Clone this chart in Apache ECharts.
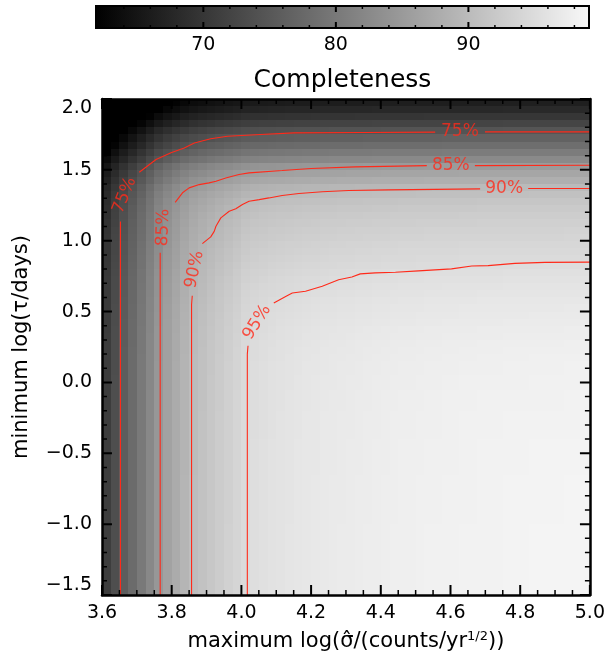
<!DOCTYPE html>
<html>
<head>
<meta charset="utf-8">
<script src="https://cdn.jsdelivr.net/npm/echarts@6/dist/echarts.min.js"></script>
<style>
  html, body { margin: 0; padding: 0; background: #ffffff; }
  #chart { width: 608px; height: 658px; }
</style>
</head>
<body>
<div id="chart"></div>
<script>
// Grid of the completeness map: cell centres along each axis
const cellW = 0.025;   // width of one cell in log(sigma)
const cellH = 0.05;    // height of one cell in log(tau)
const sigmaCentres = Array.from({ length: 56 }, (_, k) => +(3.6125 + k * cellW).toFixed(4));
const tauCentres = Array.from({ length: 70 }, (_, j) => +(-1.475 + j * cellH).toFixed(4));

// Completeness (%) along the bottom row, one value per column (left to right)
const bottomRow = [
  71.0, 73.6, 75.9, 78.0, 80.1, 82.3, 84.6, 86.2, 87.6, 89.0,
  90.2, 91.0, 91.8, 92.5, 93.2, 93.9, 94.8, 95.2, 95.5, 95.8,
  96.0, 96.2, 96.4, 96.6, 96.7, 96.9, 97.0, 97.1, 97.2, 97.3,
  97.4, 97.5, 97.6, 97.7, 97.8, 97.8, 97.9, 98.0, 98.0, 98.1,
  98.1, 98.2, 98.2, 98.3, 98.3, 98.3, 98.4, 98.4, 98.4, 98.5,
  98.5, 98.5, 98.5, 98.6, 98.6, 98.6
];

// Completeness (%) along the right-hand column, one value per row (bottom to top)
const rightColumn = [
  98.6, 98.6, 98.6, 98.6, 98.6, 98.6, 98.6, 98.6, 98.6, 98.6,
  98.5, 98.5, 98.5, 98.5, 98.5, 98.5, 98.5, 98.4, 98.4, 98.4,
  98.4, 98.4, 98.3, 98.3, 98.3, 98.3, 98.2, 98.2, 98.2, 98.1,
  98.1, 98.0, 98.0, 97.9, 97.8, 97.7, 97.5, 97.4, 97.2, 97.0,
  96.8, 96.6, 96.3, 96.1, 95.8, 95.5, 95.1, 94.8, 94.5, 94.2,
  93.8, 93.5, 93.1, 92.7, 92.2, 91.6, 90.8, 89.8, 88.2, 86.8,
  85.2, 82.6, 80.5, 78.4, 76.6, 74.6, 72.2, 70.0, 68.0, 66.5
];
const peakCompleteness = 98.7;

// Axis ranges and tick positions
const xMin = 3.6, xMax = 5.0, yMin = -1.5, yMax = 2.0;
const xMajorTicks = [3.6, 3.8, 4.0, 4.2, 4.4, 4.6, 4.8, 5.0];
const xMinorTicks = [3.65, 3.7, 3.75, 3.85, 3.9, 3.95, 4.05, 4.1, 4.15, 4.25, 4.3, 4.35,
                     4.45, 4.5, 4.55, 4.65, 4.7, 4.75, 4.85, 4.9, 4.95];
const yMajorTicks = [-1.5, -1.0, -0.5, 0.0, 0.5, 1.0, 1.5, 2.0];
const yMinorTicks = [-1.4, -1.3, -1.2, -1.1, -0.9, -0.8, -0.7, -0.6, -0.4, -0.3, -0.2, -0.1,
                     0.1, 0.2, 0.3, 0.4, 0.6, 0.7, 0.8, 0.9, 1.1, 1.2, 1.3, 1.4, 1.6, 1.7, 1.8, 1.9];

// Colour bar range and ticks
const cbMin = 61.9, cbMax = 99.1;
const cbMajor = [70, 80, 90];
const cbMinor = [62, 64, 66, 68, 72, 74, 76, 78, 82, 84, 86, 88, 92, 94, 96, 98];

// Contour lines (log sigma, log tau); each level is split where its label sits
const c75Low  = [[3.653, -1.5], [3.653, 1.135]];
const c75Mid  = [[3.707, 1.483], [3.755, 1.573], [3.798, 1.62], [3.836, 1.655], [3.865, 1.69],
                 [3.912, 1.719], [3.96, 1.737], [4.055, 1.749], [4.151, 1.761], [4.35, 1.764], [4.556, 1.766]];
const c75High = [[4.699, 1.768], [5.0, 1.768]];

const c85Low  = [[3.767, -1.5], [3.767, 0.915]];
const c85Mid  = [[3.810, 1.271], [3.831, 1.338], [3.850, 1.373], [3.879, 1.396], [3.907, 1.408],
                 [3.927, 1.42], [3.955, 1.443], [3.993, 1.467], [4.022, 1.479], [4.117, 1.495],
                 [4.20, 1.510], [4.327, 1.521], [4.532, 1.53]];
const c85High = [[4.670, 1.53], [5.0, 1.532]];

const c90Low  = [[3.857, -1.5], [3.857, 0.55], [3.859, 0.612]];
const c90Mid  = [[3.888, 0.979], [3.912, 1.027], [3.922, 1.066], [3.927, 1.102], [3.941, 1.161],
                 [3.965, 1.208], [3.984, 1.225], [4.003, 1.255], [4.022, 1.278], [4.051, 1.29],
                 [4.079, 1.302], [4.117, 1.319], [4.165, 1.333], [4.232, 1.345], [4.308, 1.354],
                 [4.422, 1.359], [4.685, 1.366]];
const c90High = [[4.823, 1.368], [5.0, 1.368]];

const c95Low  = [[4.017, -1.5], [4.017, 0.2], [4.019, 0.259]];
const c95Mid  = [[4.093, 0.561], [4.127, 0.607], [4.146, 0.631], [4.184, 0.643], [4.232, 0.678],
                 [4.279, 0.725], [4.317, 0.744], [4.341, 0.766], [4.384, 0.773], [4.442, 0.777],
                 [4.508, 0.787], [4.603, 0.801], [4.661, 0.822], [4.708, 0.824], [4.785, 0.84],
                 [4.871, 0.847], [5.0, 0.849]];

// Contour labels: position, text, rotation (degrees)
const contourLabels = [
  [3.665, 1.32, '75%', 68],
  [4.627, 1.768, '75%', 0],
  [3.776, 1.093, '85%', 88],
  [4.601, 1.53, '85%', 0],
  [3.866, 0.796, '90%', 78],
  [4.754, 1.368, '90%', 0],
  [4.045, 0.425, '95%', 58]
];

// Build the cell table: both edge profiles are combined as completeness deficits
const cells = [];
const pNorm = 1.5;
for (let j = 0; j < tauCentres.length; j++) {
  for (let i = 0; i < sigmaCentres.length; i++) {
    const da = Math.max(0, peakCompleteness - bottomRow[i]);
    const db = Math.max(0, peakCompleteness - rightColumn[j]);
    let v = peakCompleteness - Math.pow(Math.pow(da, pNorm) + Math.pow(db, pNorm), 1 / pNorm);
    v = Math.min(cbMax, Math.max(cbMin, v));
    cells.push([sigmaCentres[i], tauCentres[j], +v.toFixed(2)]);
  }
}

const FONT = 'DejaVu Sans';
const RED = '#ff2a1a';
const minus = v => String(v).replace('-', '\u2212');

// Plot box geometry (px) used to express tick lengths in axis units
const GRID_W = 490, GRID_H = 496, BAR_W = 493, BAR_H = 22;
const pxX = px => px * (xMax - xMin) / GRID_W;
const pxY = px => px * (yMax - yMin) / GRID_H;
const pxBar = px => px / BAR_H;

const GAP = [NaN, NaN];

// Short inward segments on both sides of a box, separated by gaps
function verticalTicks(values, lo, hi, len) {
  const out = [];
  values.forEach(v => {
    out.push([v, lo], [v, lo + len], GAP, [v, hi], [v, hi - len], GAP);
  });
  return out;
}
function horizontalTicks(values, lo, hi, len) {
  const out = [];
  values.forEach(v => {
    out.push([lo, v], [lo + len, v], GAP, [hi, v], [hi - len, v], GAP);
  });
  return out;
}

function tickSeries(data, width, xi, yi) {
  return {
    type: 'line', xAxisIndex: xi, yAxisIndex: yi, data: data,
    showSymbol: false, symbol: 'none', silent: true, clip: false, connectNulls: false,
    lineStyle: { color: '#000000', width: width, cap: 'butt' }, z: 20
  };
}

function contourSeries(data) {
  return {
    type: 'line', xAxisIndex: 0, yAxisIndex: 0, data: data,
    showSymbol: false, symbol: 'none', silent: true,
    lineStyle: { color: RED, width: 1.1 }, z: 5
  };
}

function frameAxis(extra) {
  return Object.assign({
    z: 10,
    axisLine: { show: true, onZero: false, lineStyle: { color: '#000', width: 2.5 } },
    axisTick: { show: false },
    minorTick: { show: false },
    splitLine: { show: false },
    minorSplitLine: { show: false }
  }, extra);
}

const chart = echarts.init(document.getElementById('chart'), null, { renderer: 'canvas' });

const option = {
  backgroundColor: '#ffffff',
  animation: false,
  grid: [
    { left: 102, top: 99, width: GRID_W, height: GRID_H },
    { left: 96, top: 6, width: BAR_W, height: BAR_H }
  ],
  visualMap: {
    type: 'continuous', show: false, seriesIndex: 0, dimension: 2,
    min: cbMin, max: cbMax,
    inRange: { color: ['#000000', '#f8f8f8'] }
  },
  xAxis: [
    frameAxis({
      type: 'value', gridIndex: 0, position: 'bottom', min: xMin, max: xMax, interval: 0.2,
      axisLabel: { color: '#000', fontFamily: FONT, fontSize: 19, margin: 9,
                   formatter: v => v.toFixed(1) },
      name: 'maximum log(σ\u0302/(counts/yr{sup|1/2}))',
      nameLocation: 'middle', nameGap: 35,
      nameTextStyle: { color: '#000', fontFamily: FONT, fontSize: 21,
        rich: { sup: { fontSize: 13, fontFamily: FONT, color: '#000', padding: [0, 0, 10, 0] } } }
    }),
    frameAxis({
      type: 'value', gridIndex: 0, position: 'top', min: xMin, max: xMax, interval: 0.2,
      axisLabel: { show: false }
    }),
    // colour bar scale
    {
      type: 'value', gridIndex: 1, position: 'bottom', min: cbMin, max: cbMax,
      axisLine: { show: false }, axisTick: { show: false }, splitLine: { show: false },
      axisLabel: { show: true, customValues: cbMajor, color: '#000', fontFamily: FONT, fontSize: 19, margin: 8 },
      name: 'Completeness', nameLocation: 'middle', nameGap: 40,
      nameTextStyle: { color: '#000', fontFamily: FONT, fontSize: 25 }
    }
  ],
  yAxis: [
    frameAxis({
      type: 'value', gridIndex: 0, position: 'left', min: yMin, max: yMax, interval: 0.5,
      axisLabel: { color: '#000', fontFamily: FONT, fontSize: 19, margin: 10,
                   formatter: v => minus(v.toFixed(1)),
                   verticalAlignMinLabel: 'bottom', verticalAlignMaxLabel: 'top' },
      name: 'minimum log(τ/days)', nameLocation: 'middle', nameGap: 70, nameRotate: 90,
      nameTextStyle: { color: '#000', fontFamily: FONT, fontSize: 21 }
    }),
    frameAxis({
      type: 'value', gridIndex: 0, position: 'right', min: yMin, max: yMax, interval: 0.5,
      axisLabel: { show: false }
    }),
    { type: 'value', gridIndex: 1, min: 0, max: 1, show: false }
  ],
  series: [
    {
      type: 'custom', xAxisIndex: 0, yAxisIndex: 0, data: cells, clip: true, silent: true,
      progressive: 0, large: false,
      encode: { x: 0, y: 1 },
      renderItem: function (params, api) {
        const x = api.value(0), y = api.value(1);
        const p0 = api.coord([x - cellW / 2, y + cellH / 2]);
        const p1 = api.coord([x + cellW / 2, y - cellH / 2]);
        const x0 = Math.round(p0[0]), y0 = Math.round(p0[1]);
        const x1 = Math.round(p1[0]), y1 = Math.round(p1[1]);
        return {
          type: 'rect',
          shape: { x: x0, y: y0, width: x1 - x0, height: y1 - y0 },
          style: { fill: api.visual('color'), stroke: null }
        };
      },
      z: 1
    },
    contourSeries(c75Low), contourSeries(c75Mid), contourSeries(c75High),
    contourSeries(c85Low), contourSeries(c85Mid), contourSeries(c85High),
    contourSeries(c90Low), contourSeries(c90Mid), contourSeries(c90High),
    contourSeries(c95Low), contourSeries(c95Mid),
    {
      type: 'scatter', xAxisIndex: 0, yAxisIndex: 0, symbolSize: 0, silent: true, z: 6,
      data: contourLabels.map(d => ({
        value: [d[0], d[1]],
        label: {
          show: true, position: 'inside', formatter: d[2], rotate: d[3],
          color: RED, fontFamily: FONT, fontSize: 17, fontWeight: 'normal'
        }
      }))
    },
    // inward ticks of the plot frame
    tickSeries(verticalTicks(xMajorTicks, yMin, yMax, pxY(10)), 2, 0, 0),
    tickSeries(verticalTicks(xMinorTicks, yMin, yMax, pxY(5)), 1.5, 0, 0),
    tickSeries(horizontalTicks(yMajorTicks, xMin, xMax, pxX(10)), 2, 0, 0),
    tickSeries(horizontalTicks(yMinorTicks, xMin, xMax, pxX(5)), 1.5, 0, 0),
    // colour bar
    {
      type: 'custom', xAxisIndex: 2, yAxisIndex: 2, data: [[cbMin, cbMax]], silent: true, clip: false,
      renderItem: function (params, api) {
        const a = api.coord([api.value(0), 1]);
        const b = api.coord([api.value(1), 0]);
        return {
          type: 'rect',
          shape: { x: a[0], y: a[1], width: b[0] - a[0], height: b[1] - a[1] },
          style: {
            fill: new echarts.graphic.LinearGradient(0, 0, 1, 0, [
              { offset: 0, color: '#000000' }, { offset: 1, color: '#f8f8f8' }
            ]),
            stroke: '#000', lineWidth: 2
          }
        };
      },
      z: 1
    },
    // colour bar ticks
    tickSeries(verticalTicks(cbMajor, 0, 1, pxBar(6)), 2, 2, 2),
    tickSeries(verticalTicks(cbMinor, 0, 1, pxBar(3)), 1.5, 2, 2)
  ]
};

chart.setOption(option);
</script>
</body>
</html>
